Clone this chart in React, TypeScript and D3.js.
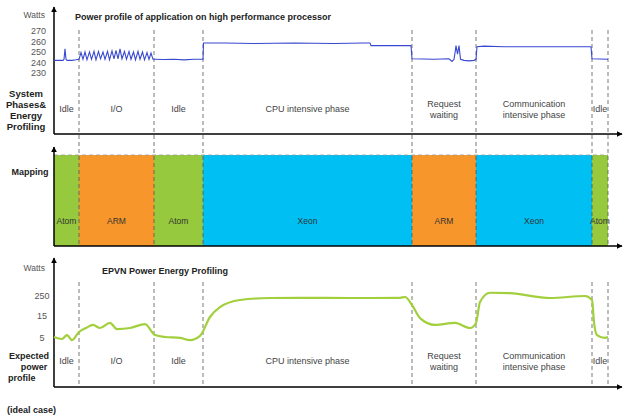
import React from "react";
import * as d3 from "d3";

// Phase boundaries (time units) and labels
const phaseBounds = [0, 25, 100, 149, 358, 422, 538, 554];
const phaseLabels = [["Idle"], ["I/O"], ["Idle"], ["CPU intensive phase"], ["Request", "waiting"], ["Communication", "intensive phase"], ["Idle"]];
const processors = ["Atom", "ARM", "Atom", "Xeon", "ARM", "Xeon", "Atom"];
const procColors: Record<string, string> = { Atom: "#96c93d", ARM: "#f7962b", Xeon: "#00bff2" };

// Top panel: measured power (Watts)
const topTicks = [230, 240, 250, 260, 270];
const blueTime = [0, 5, 9, 10, 11, 12, 13, 18, 22, 25,
  27, 29, 31, 33, 35.5, 37.5, 40, 42, 44.5, 46.5, 49, 51, 53.5, 55.5, 58, 60, 62, 64, 66, 68, 70.5, 72.5, 75, 77, 79.5, 81.5, 84, 86, 88.5, 90.5, 93, 95, 97, 99,
  100, 110, 120, 130, 140, 148, 149, 149.5, 150, 170, 200, 240, 280, 310, 316, 317, 340, 357, 358, 380, 395, 398, 400, 401, 402, 403.5, 405, 406.5, 410, 415, 420, 422, 423, 430, 450, 470, 500, 520, 537, 538, 554];
const blueWatts = [243, 243, 243, 244, 254, 244, 243, 243, 243.5, 244,
  250.5, 244, 251, 243.5, 251, 244, 251.5, 243.5, 251.5, 244.5, 251, 244, 251.5, 243.5, 252, 244.5, 252.5, 244.5, 254, 244.5, 251.5, 244, 251.5, 244, 251, 243.5, 251.5, 244, 251, 243.5, 250.5, 244, 250, 244,
  244, 243.8, 244, 243.5, 244, 244, 244, 259.5, 259.5, 259.5, 259, 259.5, 259, 259.5, 259.5, 257, 257, 257, 244.5, 244, 244.5, 242, 244, 250, 257, 249, 257, 244, 243, 242.5, 243, 244, 256, 256.5, 256, 256, 256, 256, 256, 244.5, 244];

// Bottom panel: expected power profile
const botTicks = [5, 15, 250];
const greenTime = [0, 8, 13, 18, 25, 32, 39, 46, 56, 63, 76, 91, 101, 111, 126, 136, 146, 156, 166, 186, 216, 246, 296, 346, 351, 358, 366, 381, 401, 416, 422, 426, 436, 456, 496, 531, 538, 540, 543, 551, 554];
const greenWatts = [5.9, 5, 6.8, 4.5, 8.2, 10, 11.4, 10, 12.3, 9.5, 10, 11.8, 6.8, 5.9, 5.5, 4.5, 6.4, 15, 132, 215, 238, 240, 238, 240, 250, 156, 14.5, 11.4, 12.3, 10, 12.3, 191, 300, 295, 238, 262, 215, 12.7, 6.8, 5.5, 5.9];

const FONT = "'Liberation Sans', Arial, Helvetica, sans-serif";

export default function App() {
  const W = 623, H = 416;
  const x = d3.scaleLinear().domain([0, 568]).range([54, 622]);
  const yTop = d3.scaleLinear().domain([230, 270]).range([74, 32]);
  const yBot = d3.scaleLinear().domain([5, 15, 250]).range([339, 317, 297]);

  const blueLine = d3.line<number>().x((_, i) => x(blueTime[i])).y((d) => yTop(d));
  const greenLine = d3.line<number>().x((_, i) => x(greenTime[i])).y((d) => yBot(d)).curve(d3.curveMonotoneX);

  const axisX0 = x(0);
  const axes = [
    { top: 7, bottom: 134 },
    { top: 147, bottom: 246 },
    { top: 258, bottom: 387 },
  ];
  const mids = phaseLabels.map((_, i) => (x(phaseBounds[i]) + x(phaseBounds[i + 1])) / 2);
  const labelColor = "#444";

  const phaseText = (cy: number, key: string) =>
    phaseLabels.map((lines, i) => {
      const n = lines.length;
      return lines.map((l, j) => (
        <text key={key + i + "-" + j} x={mids[i]} y={cy + (j - (n - 1) / 2) * 11} textAnchor="middle" dominantBaseline="middle" fontSize={9} fill={labelColor}>{l}</text>
      ));
    });

  return (
    <svg width={W} height={H} style={{ position: "absolute", left: 0, top: 0, background: "#fff" }} fontFamily={FONT}>
      <defs>
        <marker id="arr" viewBox="0 0 10 10" refX="9" refY="5" markerWidth="6" markerHeight="6" orient="auto-start-reverse" markerUnits="userSpaceOnUse">
          <path d="M0,0 L10,5 L0,10 z" fill="#000" />
        </marker>
      </defs>
      <rect width={W} height={H} fill="#fff" />

      {/* Mapping bars */}
      {processors.map((p, i) => (
        <rect key={"bar" + i} x={x(phaseBounds[i])} y={155} width={x(phaseBounds[i + 1]) - x(phaseBounds[i])} height={246 - 155} fill={procColors[p]} />
      ))}
      <line x1={x(0)} x2={x(554)} y1={155} y2={155} stroke="#999" strokeWidth={0.8} strokeDasharray="4,3" />
      {processors.map((p, i) => (
        <text key={"pl" + i} x={mids[i]} y={222} textAnchor="middle" dominantBaseline="middle" fontSize={8.5} fill="#333">{p}</text>
      ))}

      {/* dashed phase boundaries */}
      {phaseBounds.slice(1).map((b, i) => (
        <g key={"dl" + i}>
          <line x1={x(b)} x2={x(b)} y1={30} y2={246} stroke="#555" strokeWidth={0.8} strokeDasharray="4,3" />
          <line x1={x(b)} x2={x(b)} y1={282} y2={387} stroke="#555" strokeWidth={0.8} strokeDasharray="4,3" />
        </g>
      ))}

      {/* Axes */}
      {axes.map((a, i) => (
        <g key={"ax" + i}>
          <line x1={axisX0} x2={axisX0} y1={a.bottom} y2={a.top} stroke="#000" strokeWidth={1.5} markerEnd="url(#arr)" />
          <line x1={axisX0} x2={622} y1={a.bottom} y2={a.bottom} stroke="#000" strokeWidth={1.5} markerEnd="url(#arr)" />
        </g>
      ))}

      {/* Top panel */}
      <text x={45} y={18} textAnchor="end" fontSize={8.5} fill="#555">Watts</text>
      <text x={75} y={20} fontSize={9} fontWeight="bold" fill="#222">Power profile of application on high performance processor</text>
      {topTicks.map((t) => (
        <text key={"tt" + t} x={46} y={yTop(t)} textAnchor="end" dominantBaseline="middle" fontSize={9} fill="#555">{t}</text>
      ))}
      <path d={blueLine(blueWatts) || ""} fill="none" stroke="#3848d0" strokeWidth={1.1} />
      {phaseText(110, "top")}
      {["System", "Phases&", "Energy", "Profiling"].map((l, i) => (
        <text key={"sl" + i} x={26} y={94 + i * 11} textAnchor="middle" dominantBaseline="middle" fontSize={9.5} fontWeight="bold" fill="#222">{l}</text>
      ))}

      {/* Middle */}
      <text x={30} y={173} textAnchor="middle" dominantBaseline="middle" fontSize={9} fontWeight="bold" fill="#222">Mapping</text>

      {/* Bottom panel */}
      <text x={45} y={271} textAnchor="end" fontSize={8.5} fill="#555">Watts</text>
      <text x={102} y={274} fontSize={9} fontWeight="bold" fill="#222">EPVN Power Energy Profiling</text>
      {botTicks.map((t) => (
        <text key={"bt" + t} x={42} y={yBot(t)} textAnchor="middle" dominantBaseline="middle" fontSize={9} fill="#555">{t}</text>
      ))}
      <path d={greenLine(greenWatts) || ""} fill="none" stroke="#a2cf3c" strokeWidth={2.2} />
      {phaseText(362, "bot")}
      <text x={29} y={357} textAnchor="middle" dominantBaseline="middle" fontSize={9} fontWeight="bold" fill="#222">Expected</text>
      <text x={34} y={368} textAnchor="middle" dominantBaseline="middle" fontSize={9} fontWeight="bold" fill="#222">power</text>
      <text x={8} y={379} dominantBaseline="middle" fontSize={9} fontWeight="bold" fill="#222">profile</text>
      <text x={7} y={411} dominantBaseline="middle" fontSize={9} fontWeight="bold" fill="#222">(ideal case)</text>
    </svg>
  );
}
